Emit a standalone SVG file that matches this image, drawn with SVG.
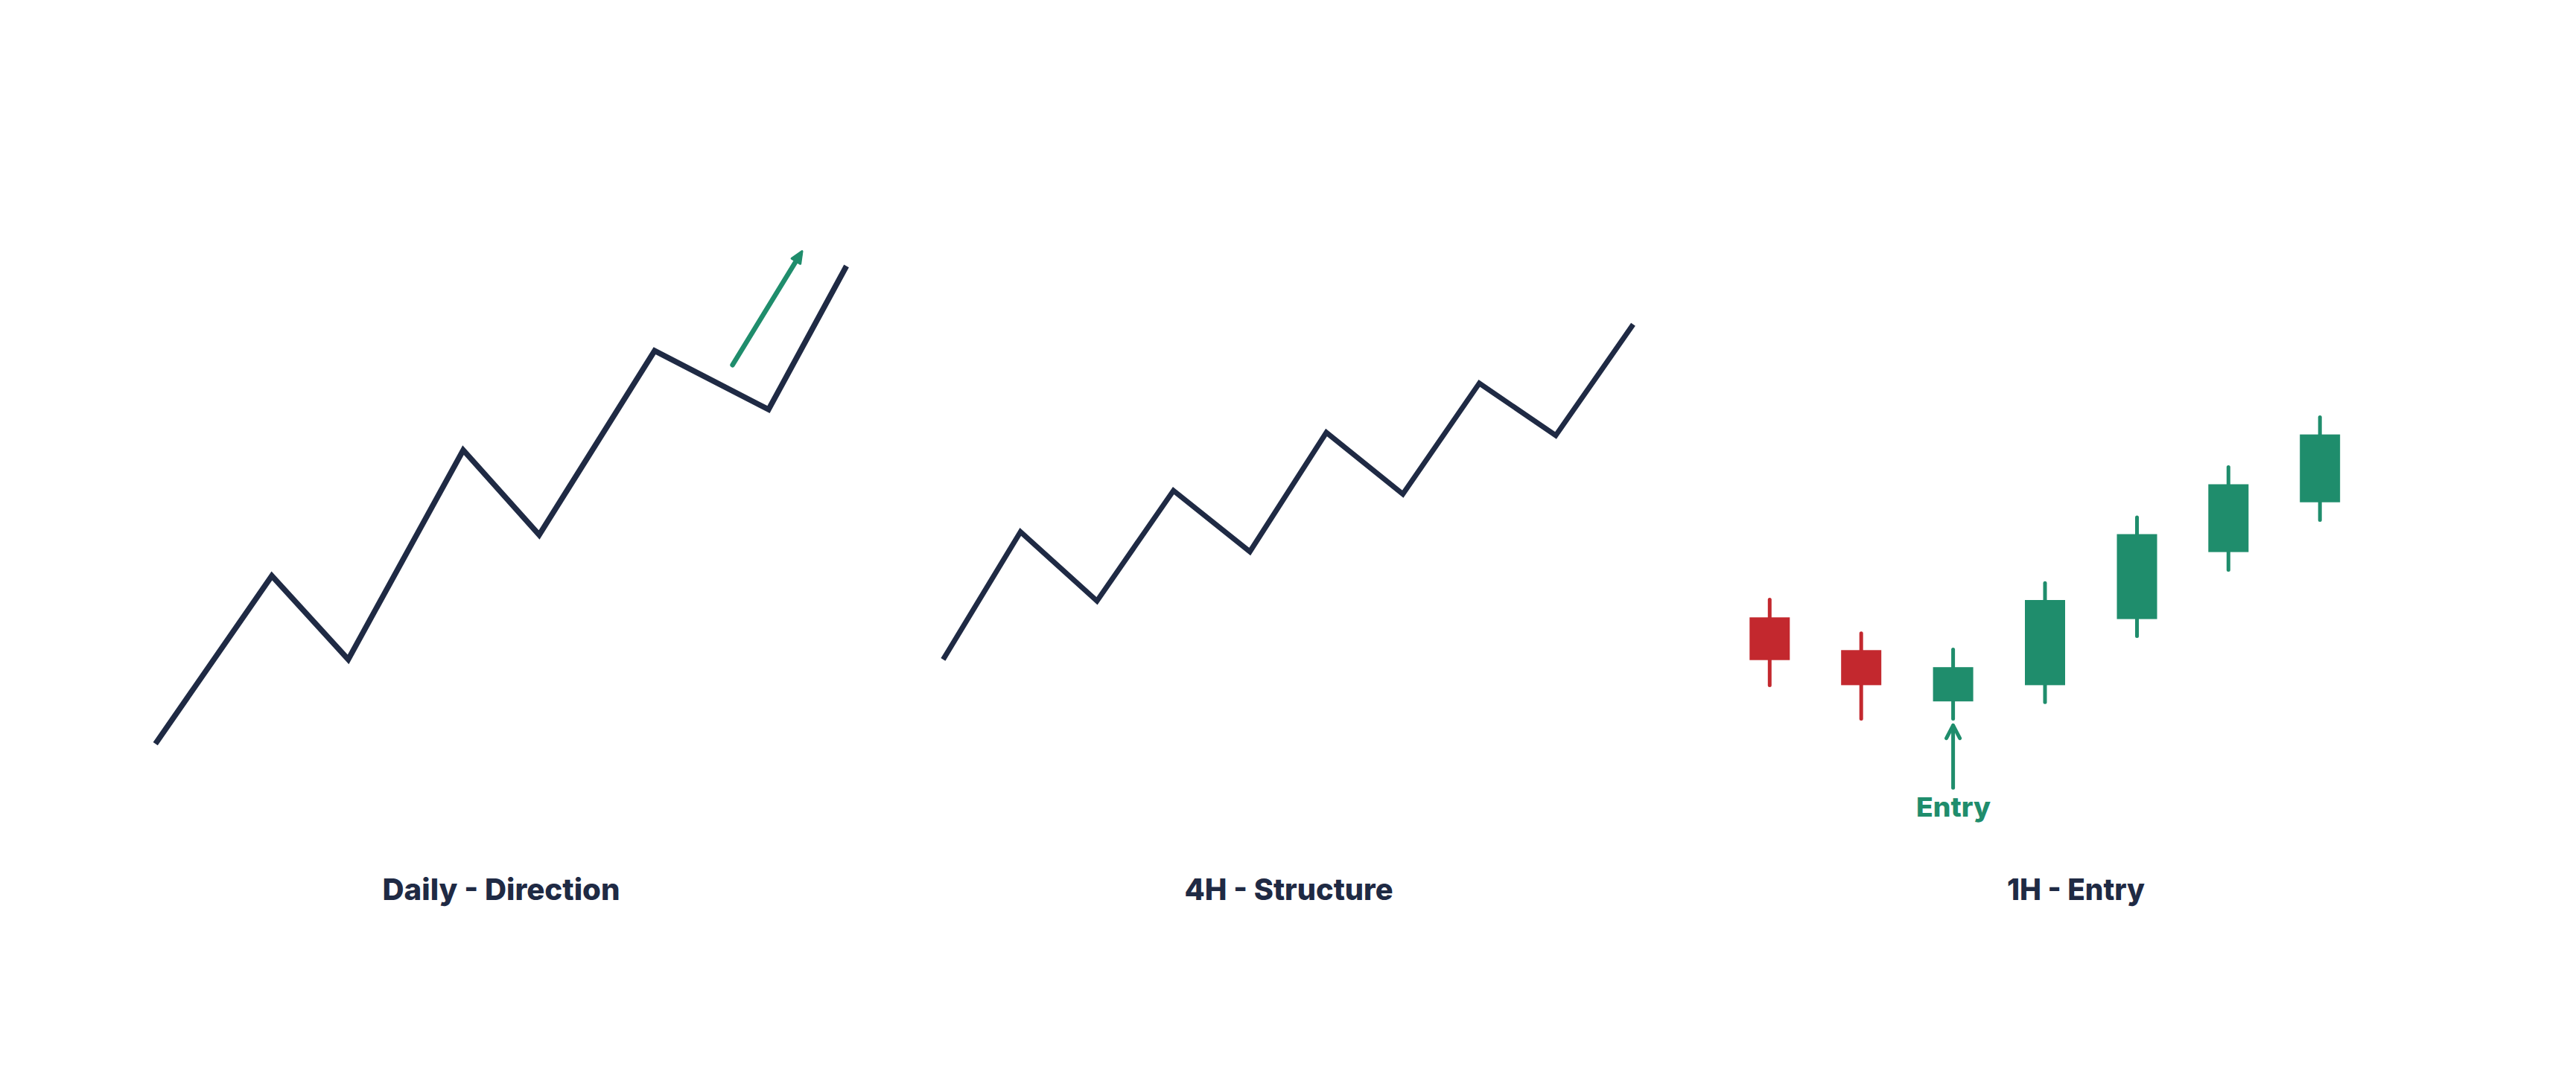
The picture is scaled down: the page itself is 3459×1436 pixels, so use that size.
<svg xmlns="http://www.w3.org/2000/svg" width="3459" height="1436" viewBox="0 0 3459 1436">
  <style>
    .trend { fill: none; stroke: #1f2a44; stroke-linejoin: miter; stroke-linecap: butt; }
    .label { font-family: Inter, "Open Sans", "Liberation Sans", sans-serif; font-weight: 800; font-size: 40px; fill: #1f2a44; text-anchor: middle; }
    .green { fill: #1f8d6c; }
    .red { fill: #c3282e; }
    .wick-g { stroke: #1f8d6c; stroke-width: 5; stroke-linecap: round; }
    .wick-r { stroke: #c3282e; stroke-width: 5; stroke-linecap: round; }
  </style>
  <defs>
    <marker id="tri" viewBox="0 0 10 10" refX="6" refY="5" markerWidth="3" markerHeight="3" orient="auto" markerUnits="strokeWidth">
      <path d="M1,1.5 L9,5 L1,8.5 Z" fill="#1f8d6c" stroke="#1f8d6c" stroke-width="1.5" stroke-linejoin="round"/>
    </marker>
  </defs>
  <rect width="3459" height="1436" fill="#ffffff"/>

  <g id="daily-direction">
    <polyline class="trend" stroke-width="7.5" points="208.7,999.2 365,773.5 467.6,885.8 622,604.6 724,718.5 879,471.2 1032,550.1 1136.6,357.4"/>
    <text class="label" x="673" y="1209" textLength="319" lengthAdjust="spacingAndGlyphs">Daily - Direction</text>
  </g>

  <g id="structure-4h">
    <polyline class="trend" stroke-width="7" points="1266.4,885.9 1370.3,714.4 1473,807.3 1575.7,659 1678.3,741 1781,581 1883.7,663.7 1986.4,514.8 2089,585 2193,435.8"/>
    <text class="label" x="1730.5" y="1209" textLength="280" lengthAdjust="spacingAndGlyphs">4H - Structure</text>
  </g>

  <g id="entry-1h">
    <g id="candle-1">
      <line class="wick-r" x1="2376.3" y1="805.5" x2="2376.3" y2="920.4"/>
      <rect class="red" x="2349.3" y="829.3" width="54" height="57.4"/>
    </g>
    <g id="candle-2">
      <line class="wick-r" x1="2499.2" y1="850.7" x2="2499.2" y2="965.5"/>
      <rect class="red" x="2472.2" y="873.3" width="54" height="47.1"/>
    </g>
    <g id="candle-3">
      <line class="wick-g" x1="2622.6" y1="872.5" x2="2622.6" y2="965.5"/>
      <rect class="green" x="2595.6" y="896.2" width="54" height="46"/>
    </g>
    <g id="candle-4">
      <line class="wick-g" x1="2746" y1="783.3" x2="2746" y2="943.3"/>
      <rect class="green" x="2719" y="806" width="54" height="114.4"/>
    </g>
    <g id="candle-5">
      <line class="wick-g" x1="2869.5" y1="695" x2="2869.5" y2="854.5"/>
      <rect class="green" x="2842.5" y="717.5" width="54" height="114.1"/>
    </g>
    <g id="candle-6">
      <line class="wick-g" x1="2992.3" y1="627.6" x2="2992.3" y2="765.4"/>
      <rect class="green" x="2965.3" y="650.5" width="54" height="91.1"/>
    </g>
    <g id="candle-7">
      <line class="wick-g" x1="3115.2" y1="560.6" x2="3115.2" y2="698.4"/>
      <rect class="green" x="3088.2" y="583.6" width="54" height="91.1"/>
    </g>
    <text class="label" x="2787.5" y="1209" textLength="185" lengthAdjust="spacingAndGlyphs">1H - Entry</text>
  </g>

  <g id="entry-label">
    <text x="2623" y="1096.5" font-family="Inter, 'Open Sans', 'Liberation Sans', sans-serif" font-weight="800" font-size="36" fill="#1f8d6c" text-anchor="middle" textLength="100" lengthAdjust="spacingAndGlyphs">Entry</text>
  </g>

  <g id="connectors">
    <line x1="983.6" y1="490.3" x2="1074" y2="342.5" stroke="#1f8d6c" stroke-width="6.5" stroke-linecap="round" marker-end="url(#tri)"/>
    <line x1="2622.6" y1="1058.3" x2="2622.6" y2="975" stroke="#1f8d6c" stroke-width="5" stroke-linecap="round"/>
    <polyline points="2613.6,991.7 2622.6,974.3 2631.6,991.7" fill="none" stroke="#1f8d6c" stroke-width="5" stroke-linecap="round" stroke-linejoin="round"/>
  </g>
</svg>
